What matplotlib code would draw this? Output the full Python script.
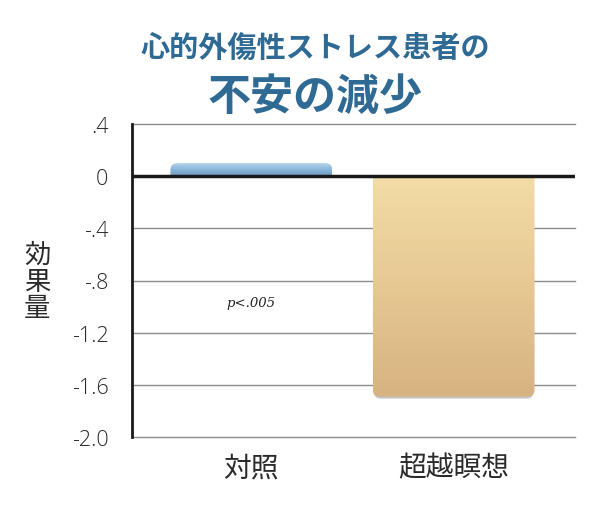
import numpy as np
import matplotlib
matplotlib.use("Agg")
import matplotlib.pyplot as plt
from matplotlib.patches import FancyBboxPatch
from matplotlib.colors import LinearSegmentedColormap

categories = ['対照', '超越瞑想']
values = [0.10, -1.69]
yticks = [0.4, 0, -0.4, -0.8, -1.2, -1.6, -2.0]
ytick_labels = ['.4', '0', '-.4', '-.8', '-1.2', '-1.6', '-2.0']
title1 = '心的外傷性ストレス患者の'
title2 = '不安の減少'
ylabel = '効果量'
note = 'p<.005'

plt.rcParams['font.family'] = ['Noto Sans CJK JP', 'DejaVu Sans']

W, H = 615, 510
fig = plt.figure(figsize=(W / 100, H / 100), dpi=100)
ax = fig.add_axes([132 / W, 1 - 438 / H, (575 - 132) / W, (438 - 125) / H])

xlim = (-0.59, 1.6)
ylim = (-2.0, 0.4)
bar_w = 0.8

px_x = (575 - 132) / (xlim[1] - xlim[0])
px_y = (438 - 125) / (ylim[1] - ylim[0])
r_px = 7
r = r_px / px_x
aspect = (r_px / px_y) / r

cmaps = [
    LinearSegmentedColormap.from_list('b', ['#6a9bc4', '#8db7da', '#b9d8ef']),
    LinearSegmentedColormap.from_list('g', ['#d7b382', '#e6c893', '#f3dca6']),
]

for i, (c, v) in enumerate(zip(categories, values)):
    x0 = i - bar_w / 2
    ext = 0.15
    if v >= 0:
        py0, ph = -ext, v + ext
    else:
        py0, ph = v, -v + ext
    patch = FancyBboxPatch((x0, py0), bar_w, ph,
                           boxstyle=f"round,pad=0,rounding_size={r}",
                           mutation_aspect=aspect,
                           facecolor='none', edgecolor='none')
    ax.add_patch(patch)
    y0, y1 = min(0, v), max(0, v)
    grad = np.linspace(0, 1, 256).reshape(-1, 1)
    im = ax.imshow(grad, cmap=cmaps[i], extent=(x0, x0 + bar_w, y0, y1),
                   origin='lower', aspect='auto', zorder=3, interpolation='bilinear')
    im.set_clip_path(patch)
    if v < 0:
        sh = FancyBboxPatch((x0 + 1.0 / px_x, v - 2.0 / px_y), bar_w - 2.0 / px_x, 0.15,
                            boxstyle=f"round,pad=0,rounding_size={r}",
                            mutation_aspect=aspect,
                            facecolor='#c4c4c4', edgecolor='none', zorder=2)
        ax.add_patch(sh)

ax.set_xlim(*xlim)
ax.set_ylim(*ylim)

for t in yticks:
    if t != 0:
        ax.axhline(t, color='#8c8c8c', lw=1.0, zorder=1, clip_on=False)
ax.axhline(0, color='#1a1a1a', lw=2.5, zorder=5)

ax.set_yticks(yticks)
ax.set_yticklabels(ytick_labels, family=['Open Sans', 'DejaVu Sans'], fontweight='light')
ax.set_xticks(range(len(categories)))
ax.set_xticklabels(categories)
ax.tick_params(axis='y', length=0, pad=17, labelsize=15.5, labelcolor='#2a2a2a')
ax.tick_params(axis='x', length=0, pad=11, labelsize=20, labelcolor='#2a2a2a')

for s in ['top', 'right', 'bottom']:
    ax.spines[s].set_visible(False)
ax.spines['left'].set_color('#1a1a1a')
ax.spines['left'].set_linewidth(2)
ax.spines['left'].set_zorder(6)

fig.text(37 / W, 1 - 282 / H, '\n'.join(ylabel), ha='center', va='center',
         fontsize=19, color='#2a2a2a', linespacing=0.98)

ax.text(0, -0.97, note, ha='center', va='center', fontsize=9.5,
        family='DejaVu Serif', style='italic', color='#222222')

title_color = '#2f6a94'
fig.text(315 / W, 1 - 48 / H, title1, ha='center', va='center',
         fontsize=21, fontweight='bold', color=title_color)
fig.text(315 / W, 1 - 97 / H, title2, ha='center', va='center',
         fontsize=31, fontweight='bold', color=title_color)

fig.savefig('out.png', dpi=100, facecolor='white')
